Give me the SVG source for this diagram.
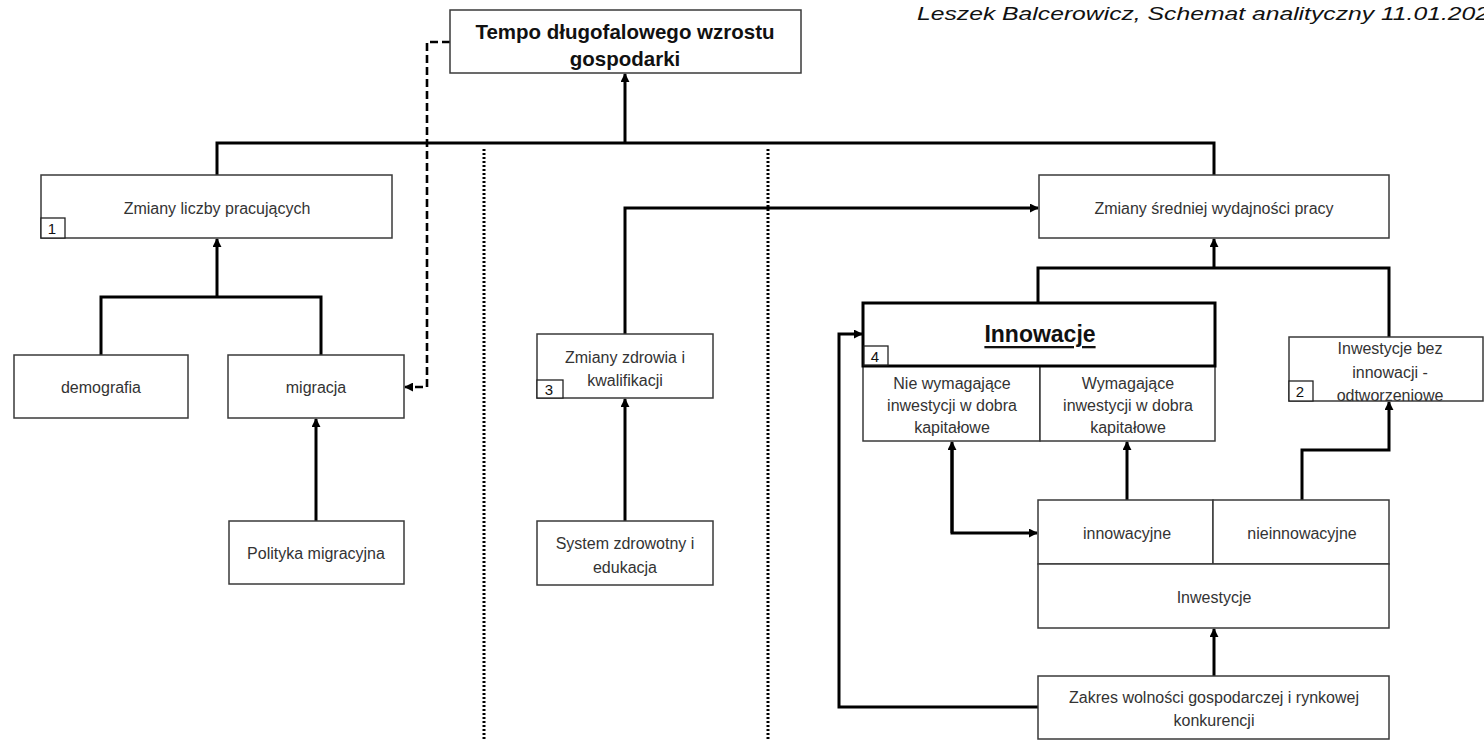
<svg xmlns="http://www.w3.org/2000/svg" width="1484" height="741" viewBox="0 0 1484 741">
<style>
.box{fill:#fff;stroke:#3a3a3a;stroke-width:1.5}
.tag{fill:#fff;stroke:#222;stroke-width:1.3}
.t{font-family:"Liberation Sans",Arial,sans-serif;font-size:16px;fill:#333;text-anchor:middle;dominant-baseline:central}
.n{font-family:"Liberation Sans",Arial,sans-serif;font-size:15px;fill:#111;text-anchor:middle;dominant-baseline:central}
.c{fill:none;stroke:#000;stroke-width:3}
.d{fill:none;stroke:#000;stroke-width:2.6;stroke-dasharray:8 4}
.dot{fill:none;stroke:#000;stroke-width:3;stroke-dasharray:2 2}
</style>
<defs>
<marker id="ah" viewBox="0 0 10 10" refX="9" refY="5" markerWidth="9" markerHeight="9" markerUnits="userSpaceOnUse" orient="auto">
<path d="M0,0 L10,5 L0,10 z" fill="#000"/>
</marker>
</defs>
<rect width="1484" height="741" fill="#fff"/>

<text x="917" y="20" font-family="Liberation Sans,Arial,sans-serif" font-style="italic" font-size="19" fill="#111" textLength="572" lengthAdjust="spacingAndGlyphs">Leszek Balcerowicz, Schemat analityczny 11.01.202</text>

<g id="separators">
<line class="dot" x1="484" y1="149" x2="484" y2="741"/>
<line class="dot" x1="768" y1="149" x2="768" y2="741"/>
</g>

<g id="connectors">
<path class="c" d="M625,143 V74" marker-end="url(#ah)"/>
<path class="c" d="M217,175 V143 H1214 V175"/>
<path class="d" d="M450,42 H427 V387 H405" marker-end="url(#ah)"/>
<path class="c" d="M101,355 V297 H321 V355"/>
<path class="c" d="M217,297 V239" marker-end="url(#ah)"/>
<path class="c" d="M316,521 V419" marker-end="url(#ah)"/>
<path class="c" d="M625,521 V399" marker-end="url(#ah)"/>
<path class="c" d="M625,334 V208 H1038" marker-end="url(#ah)"/>
<path class="c" d="M1038,303 V268 H1389 V337"/>
<path class="c" d="M1214,268 V239" marker-end="url(#ah)"/>
<path class="c" d="M1127,500 V442" marker-end="url(#ah)"/>
<path class="c" d="M1302,500 V450 H1389 V402" marker-end="url(#ah)"/>
<path class="c" d="M1214,676 V629" marker-end="url(#ah)"/>
<path class="c" d="M1038,707 H839 V334 H862" marker-end="url(#ah)"/>
<path class="c" d="M952,450 V533 H1037" marker-end="url(#ah)"/>
<path class="c" d="M952,533 V442" marker-end="url(#ah)"/>
</g>

<g id="n-tempo">
<rect class="box" x="450" y="10" width="351" height="63"/>
<text x="625" y="31" font-family="Liberation Sans,Arial,sans-serif" font-weight="bold" font-size="20.5" fill="#111" text-anchor="middle" dominant-baseline="central">Tempo długofalowego wzrostu</text>
<text x="625" y="58" font-family="Liberation Sans,Arial,sans-serif" font-weight="bold" font-size="20.5" fill="#111" text-anchor="middle" dominant-baseline="central">gospodarki</text>
</g>

<g id="n-pracujacych">
<rect class="box" x="41" y="175" width="351" height="63"/>
<text class="t" x="217" y="208">Zmiany liczby pracujących</text>
<rect class="tag" x="41" y="218" width="24" height="20"/>
<text class="n" x="52" y="228">1</text>
</g>

<g id="n-demografia">
<rect class="box" x="14" y="355" width="174" height="63"/>
<text class="t" x="101" y="387">demografia</text>
</g>

<g id="n-migracja">
<rect class="box" x="228" y="355" width="176" height="63"/>
<text class="t" x="316" y="387">migracja</text>
</g>

<g id="n-polityka">
<rect class="box" x="229" y="521" width="175" height="63"/>
<text class="t" x="316" y="553">Polityka migracyjna</text>
</g>

<g id="n-zdrowia">
<rect class="box" x="537" y="334" width="176" height="64"/>
<text class="t" x="625" y="357">Zmiany zdrowia i</text>
<text class="t" x="625" y="380">kwalifikacji</text>
<rect class="tag" x="537" y="380" width="26" height="18"/>
<text class="n" x="549" y="389">3</text>
</g>

<g id="n-system">
<rect class="box" x="537" y="521" width="176" height="64"/>
<text class="t" x="625" y="543">System zdrowotny i</text>
<text class="t" x="625" y="567">edukacja</text>
</g>

<g id="n-wydajnosc">
<rect class="box" x="1039" y="175" width="350" height="63"/>
<text class="t" x="1214" y="208">Zmiany średniej wydajności pracy</text>
</g>

<g id="n-innowacje">
<rect class="box" x="863" y="366" width="177" height="75"/>
<rect class="box" x="1040" y="366" width="175" height="75"/>
<text class="t" x="952" y="383">Nie wymagające</text>
<text class="t" x="952" y="405">inwestycji w dobra</text>
<text class="t" x="952" y="427">kapitałowe</text>
<text class="t" x="1128" y="383">Wymagające</text>
<text class="t" x="1128" y="405">inwestycji w dobra</text>
<text class="t" x="1128" y="427">kapitałowe</text>
<rect x="863" y="303" width="352" height="63" fill="#fff" stroke="#000" stroke-width="3"/>
<text x="1040" y="334" font-family="Liberation Sans,Arial,sans-serif" font-weight="bold" font-size="23" fill="#111" text-anchor="middle" dominant-baseline="central" text-decoration="underline">Innowacje</text>
<rect class="tag" x="864" y="346" width="24" height="19"/>
<text class="n" x="875" y="356">4</text>
</g>

<g id="n-bez-innowacji">
<rect class="box" x="1289" y="337" width="194" height="64"/>
<text class="t" x="1390" y="348">Inwestycje bez</text>
<text class="t" x="1390" y="372">innowacji -</text>
<text class="t" x="1390" y="395">odtworzeniowe</text>
<rect class="tag" x="1289" y="381" width="24" height="20"/>
<text class="n" x="1300" y="391">2</text>
</g>

<g id="n-inwestycje">
<rect class="box" x="1038" y="500" width="175" height="64"/>
<rect class="box" x="1213" y="500" width="176" height="64"/>
<rect class="box" x="1038" y="564" width="351" height="64"/>
<text class="t" x="1127" y="533">innowacyjne</text>
<text class="t" x="1302" y="533">nieinnowacyjne</text>
<text class="t" x="1214" y="597">Inwestycje</text>
</g>

<g id="n-zakres">
<rect class="box" x="1038" y="676" width="351" height="63"/>
<text class="t" x="1214" y="697">Zakres wolności gospodarczej i rynkowej</text>
<text class="t" x="1214" y="720">konkurencji</text>
</g>
</svg>
